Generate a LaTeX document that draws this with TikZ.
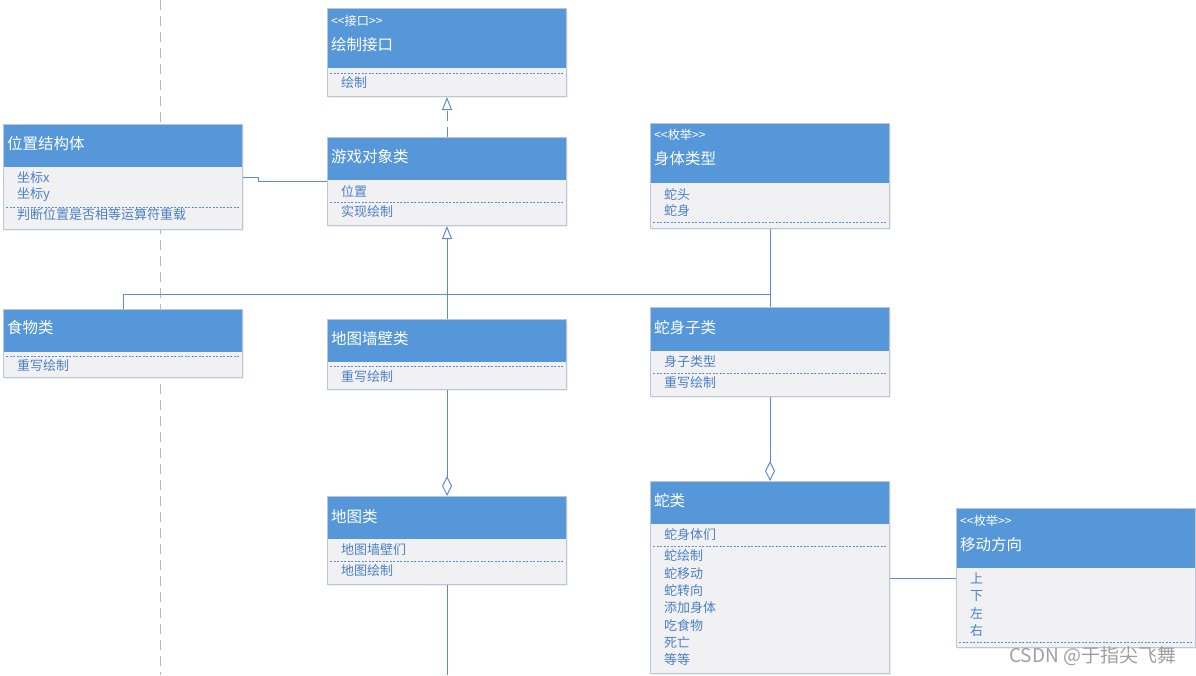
\documentclass[tikz,border=0pt]{standalone}
\usepackage{fontspec}
\newfontfamily\cjk{Noto Sans CJK SC}
\usetikzlibrary{positioning,arrows.meta,shadows}

\definecolor{headblue}{HTML}{5597D8}
\definecolor{bodygray}{HTML}{F1F1F4}
\definecolor{edgegray}{HTML}{BCC6D6}
\definecolor{textblue}{HTML}{4B80C3}
\definecolor{lineblue}{HTML}{5B8CD2}

\tikzset{
  classbox/.style={rectangle, draw=edgegray, fill=bodygray, line width=1pt, inner sep=0pt, anchor=north west, minimum width=239pt,
    drop shadow={opacity=0.12, shadow xshift=1.5pt, shadow yshift=-1.5pt}},
  classhead/.style={rectangle, fill=headblue, inner sep=0pt, anchor=north west, minimum width=238pt},
  title/.style={anchor=west, inner sep=0pt, text=white, font=\cjk\fontsize{15.5}{18}\selectfont},
  stereo/.style={anchor=west, inner sep=0pt, text=white, font=\cjk\fontsize{12.2}{14}\selectfont},
  member/.style={anchor=west, inner sep=0pt, text=textblue, font=\cjk\fontsize{13}{15}\selectfont},
  sep/.style={draw=lineblue, line width=0.6pt, dash pattern=on 2pt off 1.5pt},
  link/.style={draw=lineblue, line width=1pt},
  gen/.style={link, -{Triangle[open, length=13pt, width=10pt]}},
  real/.style={gen, dash pattern=on 10pt off 6pt},
  aggr/.style={link, -{Diamond[open, length=20pt, width=10pt]}}
}

\begin{document}
\begin{tikzpicture}[x=1pt, y=-1pt]
  \useasboundingbox (0,0) rectangle (1196,675);

  % guide line
  \coordinate (guidetop) at (160,0);
  \coordinate (guidebot) at (160,675);
  \draw[draw=gray!55, line width=0.8pt, dash pattern=on 10pt off 6pt] (guidetop) -- (guidebot);

  % interface
  \node[classbox, minimum height=88pt] (drawif) at (327,8) {};
  \node[classhead, minimum height=59pt] (drawif-h) at ([shift={(0.5,0.5)}]drawif.north west) {};
  \node[stereo] (drawif-s) at (331,21) {<<接口>>};
  \node[title] (drawif-t) at (331,45) {绘制接口};
  \draw[sep] (330,73) -- (563,73);
  \node[member] (drawif-m1) at (341,83) {绘制};

  % base class
  \node[classbox, minimum height=88pt] (gameobj) at (327,137) {};
  \node[classhead, minimum height=42pt] (gameobj-h) at ([shift={(0.5,0.5)}]gameobj.north west) {};
  \node[title] (gameobj-t) at (331,157) {游戏对象类};
  \node[member] (gameobj-a1) at (341,191) {位置};
  \draw[sep] (330,202) -- (563,202);
  \node[member] (gameobj-m1) at (341,212) {实现绘制};

  % position
  \node[classbox, minimum height=105pt] (pos) at (3,124) {};
  \node[classhead, minimum height=42pt] (pos-h) at ([shift={(0.5,0.5)}]pos.north west) {};
  \node[title] (pos-t) at (7,144) {位置结构体};
  \node[member] (pos-a1) at (17,178) {坐标x};
  \node[member] (pos-a2) at (17,195) {坐标y};
  \draw[sep] (6,207) -- (239,207);
  \node[member] (pos-m1) at (17,215) {判断位置是否相等运算符重载};

  % body type
  \node[classbox, minimum height=105pt] (bodytype) at (650,123) {};
  \node[classhead, minimum height=59pt] (bodytype-h) at ([shift={(0.5,0.5)}]bodytype.north west) {};
  \node[stereo] (bodytype-s) at (654,135) {<<枚举>>};
  \node[title] (bodytype-t) at (654,159) {身体类型};
  \node[member] (bodytype-a1) at (664,195) {蛇头};
  \node[member] (bodytype-a2) at (664,211) {蛇身};
  \draw[sep] (653,222) -- (886,222);

  % food
  \node[classbox, minimum height=68pt] (food) at (3,309) {};
  \node[classhead, minimum height=42pt] (food-h) at ([shift={(0.5,0.5)}]food.north west) {};
  \node[title] (food-t) at (7,328) {食物类};
  \draw[sep] (6,356) -- (239,356);
  \node[member] (food-m1) at (17,366) {重写绘制};

  % wall
  \node[classbox, minimum height=70pt] (wall) at (327,319) {};
  \node[classhead, minimum height=42pt] (wall-h) at ([shift={(0.5,0.5)}]wall.north west) {};
  \node[title] (wall-t) at (331,339) {地图墙壁类};
  \draw[sep] (330,366) -- (563,366);
  \node[member] (wall-m1) at (341,377) {重写绘制};

  % body part
  \node[classbox, minimum height=89pt] (bodypart) at (650,307) {};
  \node[classhead, minimum height=43pt] (bodypart-h) at ([shift={(0.5,0.5)}]bodypart.north west) {};
  \node[title] (bodypart-t) at (654,328) {蛇身子类};
  \node[member] (bodypart-a1) at (664,362) {身子类型};
  \draw[sep] (653,373) -- (886,373);
  \node[member] (bodypart-m1) at (664,383) {重写绘制};

  % map
  \node[classbox, minimum height=88pt] (map) at (327,496) {};
  \node[classhead, minimum height=42pt] (map-h) at ([shift={(0.5,0.5)}]map.north west) {};
  \node[title] (map-t) at (331,517) {地图类};
  \node[member] (map-a1) at (341,550) {地图墙壁们};
  \draw[sep] (330,561) -- (563,561);
  \node[member] (map-m1) at (341,571) {地图绘制};

  % snake
  \node[classbox, minimum height=192pt] (snake) at (650,481) {};
  \node[classhead, minimum height=42pt] (snake-h) at ([shift={(0.5,0.5)}]snake.north west) {};
  \node[title] (snake-t) at (654,501) {蛇类};
  \node[member] (snake-a1) at (664,535) {蛇身体们};
  \draw[sep] (653,546) -- (886,546);
  \foreach \op [count=\i] in {蛇绘制,蛇移动,蛇转向,添加身体,吃食物,死亡,等等}
    \node[member] (snake-m\i) at (664,{556+17.33*(\i-1)}) {\op};

  % direction
  \node[classbox, minimum height=139pt] (dir) at (956,508) {};
  \node[classhead, minimum height=59pt] (dir-h) at ([shift={(0.5,0.5)}]dir.north west) {};
  \node[stereo] (dir-s) at (960,521) {<<枚举>>};
  \node[title] (dir-t) at (960,545) {移动方向};
  \foreach \d [count=\i] in {上,下,左,右}
    \node[member] (dir-a\i) at (970,{578+17.6*(\i-1)}) {\d};
  \draw[sep] (959,642) -- (1192,642);

  % connectors
  \coordinate (genjoin) at (gameobj.south |- 0,294);
  \coordinate (mapend) at (gameobj.south |- 0,675);
  \draw[real] (gameobj.north) -- (drawif.south);
  \draw[gen] (wall.north) -- (gameobj.south);
  \draw[link] (food.north) |- (genjoin);
  \draw[link] (bodypart.north) |- (genjoin);
  \draw[link] (bodytype.south) -- (bodypart.north);
  \draw[link] (pos.east) -- ++(15,0) |- (gameobj.west);
  \draw[aggr] (wall.south) -- (map.north);
  \draw[link] (map.south) -- (mapend);
  \draw[aggr] (bodypart.south) -- (snake.north);
  \draw[link] (dir.west) -- (dir.west -| snake.east);

  % watermark
  \node[anchor=west, inner sep=0pt, text=gray!75, font=\cjk\fontsize{19}{22}\selectfont] (mark) at (1009,656) {CSDN @于指尖飞舞};
\end{tikzpicture}
\end{document}
